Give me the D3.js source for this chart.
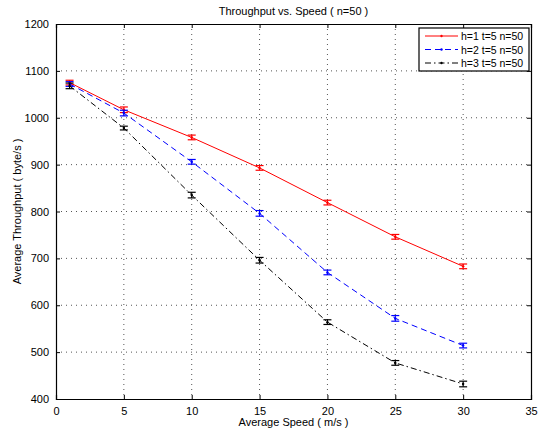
<!DOCTYPE html>
<html>
<head>
<meta charset="utf-8">
<script src="https://cdn.jsdelivr.net/npm/d3@7"></script>
<style>
    body { margin: 0; background: #fff; }
    text { font-family: "Liberation Sans", Arial, sans-serif; }
</style>
</head>
<body>
<div id="chart"></div>
<script>
// data
const speeds = [1, 5, 10, 15, 20, 25, 30];
const seriesNames = ["h=1 t=5 n=50", "h=2 t=5 n=50", "h=3 t=5 n=50"];
const h1Values = [1075, 1017, 958, 893, 819, 746, 683];
const h2Values = [1072, 1010, 906, 796, 670, 572, 514];
const h3Values = [1068, 978, 835, 696, 564, 477, 432];
const h1Err = [5, 6, 5, 5, 5, 5, 5];
const h2Err = [5, 6, 5, 6, 5, 6, 5];
const h3Err = [6, 4, 6, 6, 5, 5, 6];
const xTicks = [0, 5, 10, 15, 20, 25, 30, 35];
const yTicks = [400, 500, 600, 700, 800, 900, 1000, 1100, 1200];

const width = 545;
const height = 432;
const margin = { top: 24, right: 14, bottom: 33, left: 56 };
const innerW = width - margin.left - margin.right;
const innerH = height - margin.top - margin.bottom;

const svg = d3.select("#chart")
    .append("svg")
    .attr("width", width)
    .attr("height", height);

const g = svg.append("g")
    .attr("transform", `translate(${margin.left},${margin.top})`);

const x = d3.scaleLinear().domain([0, 35]).range([0, innerW]);
const y = d3.scaleLinear().domain([400, 1200]).range([innerH, 0]);

// dotted grid
g.selectAll(".vgrid")
    .data(xTicks.slice(1, -1))
    .enter().append("line")
    .attr("x1", d => x(d)).attr("x2", d => x(d))
    .attr("y1", 0).attr("y2", innerH)
    .attr("stroke", "#555")
    .attr("stroke-width", 1)
    .attr("stroke-dasharray", "1,4");

g.selectAll(".hgrid")
    .data(yTicks.slice(1, -1))
    .enter().append("line")
    .attr("x1", 0).attr("x2", innerW)
    .attr("y1", d => y(d)).attr("y2", d => y(d))
    .attr("stroke", "#555")
    .attr("stroke-width", 1)
    .attr("stroke-dasharray", "1,4");

// axes, ticks inward on all four sides
const axisFont = sel => sel.selectAll("text")
    .style("font-size", "11px")
    .style("font-family", "Liberation Sans, Arial, sans-serif")
    .attr("fill", "#000");

g.append("g")
    .attr("transform", `translate(0,${innerH})`)
    .call(d3.axisBottom(x).tickValues(xTicks).tickSize(-4).tickPadding(8))
    .call(axisFont);

g.append("g")
    .call(d3.axisTop(x).tickValues(xTicks).tickSize(-4).tickFormat(""));

g.append("g")
    .call(d3.axisLeft(y).tickValues(yTicks).tickSize(-4).tickPadding(7).tickFormat(d3.format("d")))
    .call(axisFont);

g.append("g")
    .attr("transform", `translate(${innerW},0)`)
    .call(d3.axisRight(y).tickValues(yTicks).tickSize(-4).tickFormat(""));

g.selectAll(".domain").attr("stroke", "#000").attr("stroke-width", 1.2);
g.selectAll(".tick line").attr("stroke", "#000");

// series
const series = [
    { name: seriesNames[0], values: h1Values, err: h1Err, color: "#ff0000", dash: null },
    { name: seriesNames[1], values: h2Values, err: h2Err, color: "#0000ff", dash: "6,4" },
    { name: seriesNames[2], values: h3Values, err: h3Err, color: "#000000", dash: "6,3,1.5,3" }
];

const line = d3.line()
    .x(d => x(d.s))
    .y(d => y(d.v));

series.forEach(sr => {
    const pts = speeds.map((s, i) => ({ s: s, v: sr.values[i], e: sr.err[i] }));

    g.append("path")
        .datum(pts)
        .attr("fill", "none")
        .attr("stroke", sr.color)
        .attr("stroke-width", 1)
        .attr("stroke-dasharray", sr.dash)
        .attr("d", line);

    const bars = g.append("g").selectAll("g")
        .data(pts)
        .enter().append("g")
        .attr("stroke", sr.color)
        .attr("stroke-width", 1.2);

    bars.append("line")
        .attr("x1", d => x(d.s)).attr("x2", d => x(d.s))
        .attr("y1", d => y(d.v - d.e)).attr("y2", d => y(d.v + d.e));
    bars.append("line")
        .attr("x1", d => x(d.s) - 4).attr("x2", d => x(d.s) + 4)
        .attr("y1", d => y(d.v - d.e)).attr("y2", d => y(d.v - d.e));
    bars.append("line")
        .attr("x1", d => x(d.s) - 4).attr("x2", d => x(d.s) + 4)
        .attr("y1", d => y(d.v + d.e)).attr("y2", d => y(d.v + d.e));

    g.append("g").selectAll("circle")
        .data(pts)
        .enter().append("circle")
        .attr("cx", d => x(d.s))
        .attr("cy", d => y(d.v))
        .attr("r", 1.2)
        .attr("fill", sr.color);
});

// title and axis labels
svg.append("text")
    .attr("x", margin.left + innerW / 2)
    .attr("y", 15)
    .attr("text-anchor", "middle")
    .style("font-size", "11px")
    .text("Throughput vs. Speed ( n=50 )");

svg.append("text")
    .attr("x", margin.left + innerW / 2)
    .attr("y", 426)
    .attr("text-anchor", "middle")
    .style("font-size", "11px")
    .text("Average Speed ( m/s )");

svg.append("text")
    .attr("transform", `translate(21,${margin.top + innerH / 2}) rotate(-90)`)
    .attr("text-anchor", "middle")
    .style("font-size", "11px")
    .text("Average Throughput ( byte/s )");

// legend
const legend = svg.append("g").attr("transform", "translate(419,28)");
legend.append("rect")
    .attr("width", 110)
    .attr("height", 43)
    .attr("fill", "#fff")
    .attr("stroke", "#000")
    .attr("stroke-width", 1.2);

series.forEach((sr, i) => {
    const ly = 8 + i * 13.5;
    legend.append("line")
        .attr("x1", 6).attr("x2", 39)
        .attr("y1", ly).attr("y2", ly)
        .attr("stroke", sr.color)
        .attr("stroke-width", 1)
        .attr("stroke-dasharray", sr.dash);
    legend.append("circle")
        .attr("cx", 22.5).attr("cy", ly)
        .attr("r", 1.2)
        .attr("fill", sr.color);
    legend.append("text")
        .attr("x", 42)
        .attr("y", ly + 4)
        .style("font-size", "10.5px")
        .text(sr.name);
});
</script>
</body>
</html>
